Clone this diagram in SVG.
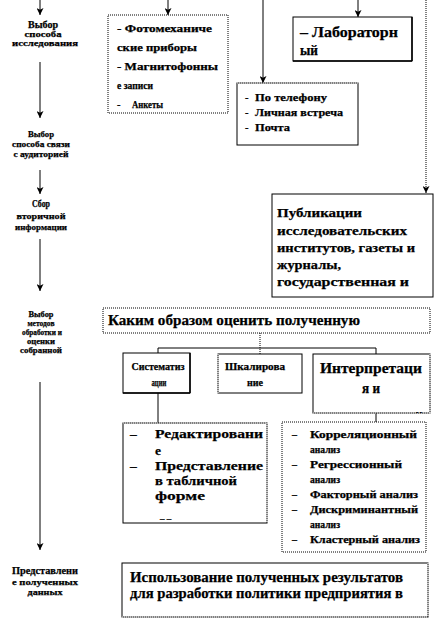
<svg xmlns="http://www.w3.org/2000/svg" width="437" height="619" viewBox="0 0 437 619">
<style>
.t{font-family:"Liberation Serif","Times New Roman","DejaVu Serif",serif;font-weight:bold;fill:#000;stroke:#000;stroke-width:0.25}
.c{text-anchor:middle}
.box{fill:#fff;stroke:#000;stroke-width:1}
.dt{stroke-dasharray:1 1}
.ln{stroke:#000;stroke-width:1;fill:none}
.sh{stroke:#000;stroke-width:1.5;fill:none}
.wd{stroke:#fff;stroke-width:1.2;stroke-dasharray:1 1;fill:none}
</style>
<defs>
<marker id="ah" viewBox="0 0 8 8" refX="8" refY="4" markerWidth="7" markerHeight="7" orient="auto" markerUnits="userSpaceOnUse"><path d="M0,0 L8,4 L0,8 L2,4 z" fill="#000"/></marker>
<clipPath id="cInt"><rect x="313" y="354" width="117" height="59"/></clipPath>
<clipPath id="cBot"><rect x="122" y="563" width="306" height="54"/></clipPath>
<clipPath id="cRed"><rect x="123" y="423" width="144" height="100"/></clipPath>
</defs>
<rect width="437" height="619" fill="#fff"/>

<g id="connectors">
<line class="ln" x1="40" y1="0" x2="40" y2="15" marker-end="url(#ah)"/>
<line class="ln" x1="40" y1="62" x2="40" y2="118" marker-end="url(#ah)"/>
<line class="ln" x1="40" y1="170" x2="40" y2="194" marker-end="url(#ah)"/>
<line class="ln" x1="40" y1="239" x2="40" y2="291" marker-end="url(#ah)"/>
<line class="ln" x1="40" y1="382" x2="40" y2="550" marker-end="url(#ah)"/>
<line class="ln" x1="168" y1="0" x2="168" y2="15" marker-end="url(#ah)"/>
<line class="ln" x1="263" y1="0" x2="263" y2="83" marker-end="url(#ah)"/>
<line class="ln" x1="358" y1="0" x2="358" y2="17" marker-end="url(#ah)"/>
<line class="ln dt" x1="426" y1="0" x2="426" y2="193" marker-end="url(#ah)"/>
<line class="ln dt" x1="260" y1="333" x2="260" y2="354"/>
<line class="ln" x1="158" y1="348" x2="376" y2="348"/>
<line class="ln" x1="158" y1="348" x2="158" y2="353"/>
<line class="ln" x1="376" y1="348" x2="376" y2="354"/>
<line class="ln" x1="158" y1="393" x2="158" y2="423"/>
<line class="ln" x1="376" y1="413" x2="376" y2="422"/>
</g>

<g id="lbl-research">
<text class="t c" x="43" y="28" font-size="9.5" textLength="30" lengthAdjust="spacingAndGlyphs">Выбор</text>
<text class="t c" x="43" y="37" font-size="9" textLength="37" lengthAdjust="spacingAndGlyphs">способа</text>
<text class="t c" x="45" y="46" font-size="8.5" textLength="66" lengthAdjust="spacingAndGlyphs">исследования</text>
</g>
<g id="lbl-contact">
<text class="t c" x="41" y="137" font-size="9" textLength="26" lengthAdjust="spacingAndGlyphs">Выбор</text>
<text class="t c" x="41" y="147" font-size="9" textLength="58" lengthAdjust="spacingAndGlyphs">способа связи</text>
<text class="t c" x="41" y="157" font-size="9" textLength="55" lengthAdjust="spacingAndGlyphs">с аудиторией</text>
</g>
<g id="lbl-secondary">
<text class="t c" x="41" y="207" font-size="9.5" textLength="18" lengthAdjust="spacingAndGlyphs">Сбор</text>
<text class="t c" x="41" y="219" font-size="9" textLength="49" lengthAdjust="spacingAndGlyphs">вторичной</text>
<text class="t c" x="41" y="230" font-size="9" textLength="52" lengthAdjust="spacingAndGlyphs">информации</text>
</g>
<g id="lbl-methods">
<text class="t c" x="41" y="317" font-size="8.5" textLength="25" lengthAdjust="spacingAndGlyphs">Выбор</text>
<text class="t c" x="41" y="326" font-size="8" textLength="27" lengthAdjust="spacingAndGlyphs">методов</text>
<text class="t c" x="42" y="335" font-size="8.5" textLength="40" lengthAdjust="spacingAndGlyphs">обработки и</text>
<text class="t c" x="41" y="344" font-size="8" textLength="28" lengthAdjust="spacingAndGlyphs">оценки</text>
<text class="t c" x="41" y="353" font-size="8.5" textLength="42" lengthAdjust="spacingAndGlyphs">собранной</text>
</g>
<g id="lbl-present">
<text class="t c" x="45" y="574" font-size="10" textLength="66" lengthAdjust="spacingAndGlyphs">Представлени</text>
<text class="t c" x="45" y="585" font-size="9" textLength="66" lengthAdjust="spacingAndGlyphs">е полученных</text>
<text class="t c" x="45" y="595" font-size="9" textLength="35" lengthAdjust="spacingAndGlyphs">данных</text>
</g>

<g id="box-tools">
<rect class="box dt" x="108" y="15" width="120" height="98"/>
<text class="t" x="117" y="32" font-size="10.5" textLength="95" lengthAdjust="spacingAndGlyphs">-  Фотомеханиче</text>
<text class="t" x="117" y="51" font-size="10.5" textLength="80" lengthAdjust="spacingAndGlyphs">ские приборы</text>
<text class="t" x="117" y="70" font-size="10.5" textLength="101" lengthAdjust="spacingAndGlyphs">-  Магнитофонны</text>
<text class="t" x="117" y="89" font-size="10.5" textLength="36" lengthAdjust="spacingAndGlyphs">е записи</text>
<text class="t" x="117" y="108" font-size="10.5">-</text>
<text class="t" x="132" y="108" font-size="10.5" textLength="31" lengthAdjust="spacingAndGlyphs">Анкеты</text>
</g>

<g id="box-lab">
<rect class="box" x="293" y="17" width="119" height="44"/>
<line class="sh" x1="412" y1="17" x2="412" y2="61"/>
<line class="sh" x1="293" y1="61" x2="412" y2="61"/>
<text class="t" x="300" y="37" font-size="14.5" textLength="98" lengthAdjust="spacingAndGlyphs">– Лабораторн</text>
<text class="t" x="300" y="55" font-size="14.5" textLength="18" lengthAdjust="spacingAndGlyphs">ый</text>
</g>

<g id="box-contact">
<rect class="box" x="237" y="83" width="121" height="62"/>
<line class="wd" x1="237" y1="83" x2="358" y2="83"/>
<text class="t" x="245" y="101" font-size="10.5">-</text>
<text class="t" x="255" y="101" font-size="10.5" textLength="72" lengthAdjust="spacingAndGlyphs">По телефону</text>
<text class="t" x="245" y="116" font-size="10.5">-</text>
<text class="t" x="255" y="116" font-size="10.5" textLength="88" lengthAdjust="spacingAndGlyphs">Личная встреча</text>
<text class="t" x="245" y="131" font-size="10.5">-</text>
<text class="t" x="255" y="131" font-size="10.5" textLength="35" lengthAdjust="spacingAndGlyphs">Почта</text>
</g>

<g id="box-publications">
<rect class="box" x="272" y="194" width="161" height="103"/>
<text class="t" x="277" y="217" font-size="13.5" textLength="85" lengthAdjust="spacingAndGlyphs">Публикации</text>
<text class="t" x="277" y="235" font-size="13.5" textLength="130" lengthAdjust="spacingAndGlyphs">исследовательских</text>
<text class="t" x="277" y="252" font-size="13.5" textLength="138" lengthAdjust="spacingAndGlyphs">институтов, газеты и</text>
<text class="t" x="277" y="269" font-size="13.5" textLength="64" lengthAdjust="spacingAndGlyphs">журналы,</text>
<text class="t" x="277" y="286" font-size="13.5" textLength="132" lengthAdjust="spacingAndGlyphs">государственная и</text>
</g>

<g id="box-how">
<rect class="box dt" x="103" y="308" width="327" height="25"/>
<text class="t" x="108" y="325" font-size="15" textLength="252" lengthAdjust="spacingAndGlyphs">Каким образом  оценить полученную</text>
</g>

<g id="box-system">
<rect class="box" x="123" y="353" width="67" height="40"/>
<line class="sh" x1="190" y1="353" x2="190" y2="393"/>
<line class="sh" x1="123" y1="393" x2="190" y2="393"/>
<text class="t c" x="158" y="370" font-size="10" textLength="53" lengthAdjust="spacingAndGlyphs">Систематиз</text>
<text class="t c" x="159" y="386" font-size="10" textLength="15" lengthAdjust="spacingAndGlyphs">ации</text>
</g>

<g id="box-scale">
<rect class="box" x="218" y="354" width="84" height="39"/>
<line class="wd" x1="218" y1="354" x2="218" y2="393"/>
<text class="t c" x="255" y="370" font-size="10" textLength="60" lengthAdjust="spacingAndGlyphs">Шкалирова</text>
<text class="t c" x="255" y="386" font-size="10" textLength="16" lengthAdjust="spacingAndGlyphs">ние</text>
</g>

<g id="box-interp">
<rect class="box" x="313" y="354" width="117" height="59"/>
<line class="wd" x1="430" y1="354" x2="430" y2="413"/>
<line class="wd" x1="313" y1="413" x2="430" y2="413"/>
<g clip-path="url(#cInt)">
<text class="t c" x="371" y="373" font-size="14.5" textLength="102" lengthAdjust="spacingAndGlyphs">Интерпретаци</text>
<text class="t c" x="371" y="393" font-size="14.5" textLength="18" lengthAdjust="spacingAndGlyphs">я и</text>
<text class="t c" x="371" y="422" font-size="14.5" textLength="104" lengthAdjust="spacingAndGlyphs">статистический</text>
</g>
</g>

<g id="box-editing">
<rect class="box" x="123" y="423" width="144" height="100"/>
<line class="wd" x1="123" y1="423" x2="267" y2="423"/>
<line class="wd" x1="267" y1="423" x2="267" y2="523"/>
<g clip-path="url(#cRed)">
<text class="t" x="130" y="438" font-size="13.5">–</text>
<text class="t" x="155" y="438" font-size="13.5" textLength="108" lengthAdjust="spacingAndGlyphs">Редактировани</text>
<text class="t" x="155" y="455" font-size="13.5">е</text>
<text class="t" x="130" y="470" font-size="13.5">–</text>
<text class="t" x="155" y="470" font-size="13.5" textLength="108" lengthAdjust="spacingAndGlyphs">Представление</text>
<text class="t" x="155" y="485" font-size="13.5" textLength="82" lengthAdjust="spacingAndGlyphs">в табличной</text>
<text class="t" x="155" y="500" font-size="13.5" textLength="50" lengthAdjust="spacingAndGlyphs">форме</text>
<text class="t" x="160" y="521" font-size="9">–   –</text>
</g>
</g>

<g id="box-analysis">
<rect class="box dt" x="282" y="422" width="144" height="130"/>
<text class="t" x="292" y="438" font-size="10">–</text>
<text class="t" x="310" y="438" font-size="10" textLength="107" lengthAdjust="spacingAndGlyphs">Корреляционный</text>
<text class="t" x="310" y="453" font-size="10" textLength="30" lengthAdjust="spacingAndGlyphs">анализ</text>
<text class="t" x="292" y="468" font-size="10">–</text>
<text class="t" x="310" y="468" font-size="10" textLength="92" lengthAdjust="spacingAndGlyphs">Регрессионный</text>
<text class="t" x="310" y="483" font-size="10" textLength="30" lengthAdjust="spacingAndGlyphs">анализ</text>
<text class="t" x="292" y="498" font-size="10">–</text>
<text class="t" x="310" y="498" font-size="10" textLength="108" lengthAdjust="spacingAndGlyphs">Факторный анализ</text>
<text class="t" x="292" y="513" font-size="10">–</text>
<text class="t" x="310" y="513" font-size="10" textLength="108" lengthAdjust="spacingAndGlyphs">Дискриминантный</text>
<text class="t" x="310" y="528" font-size="10" textLength="30" lengthAdjust="spacingAndGlyphs">анализ</text>
<text class="t" x="292" y="543" font-size="10">–</text>
<text class="t" x="310" y="543" font-size="10" textLength="110" lengthAdjust="spacingAndGlyphs">Кластерный анализ</text>
</g>

<g id="box-usage">
<rect class="box" x="122" y="563" width="306" height="54"/>
<line class="wd" x1="428" y1="563" x2="428" y2="617"/>
<line class="wd" x1="122" y1="617" x2="428" y2="617"/>
<g clip-path="url(#cBot)">
<text class="t" x="130" y="582" font-size="14.5" textLength="273" lengthAdjust="spacingAndGlyphs">Использование полученных результатов</text>
<text class="t" x="130" y="598" font-size="14.5" textLength="273" lengthAdjust="spacingAndGlyphs">для разработки  политики предприятия в</text>
<text class="t" x="130" y="625" font-size="14.5" textLength="140" lengthAdjust="spacingAndGlyphs">отношении рынка</text>
</g>
</g>
</svg>
